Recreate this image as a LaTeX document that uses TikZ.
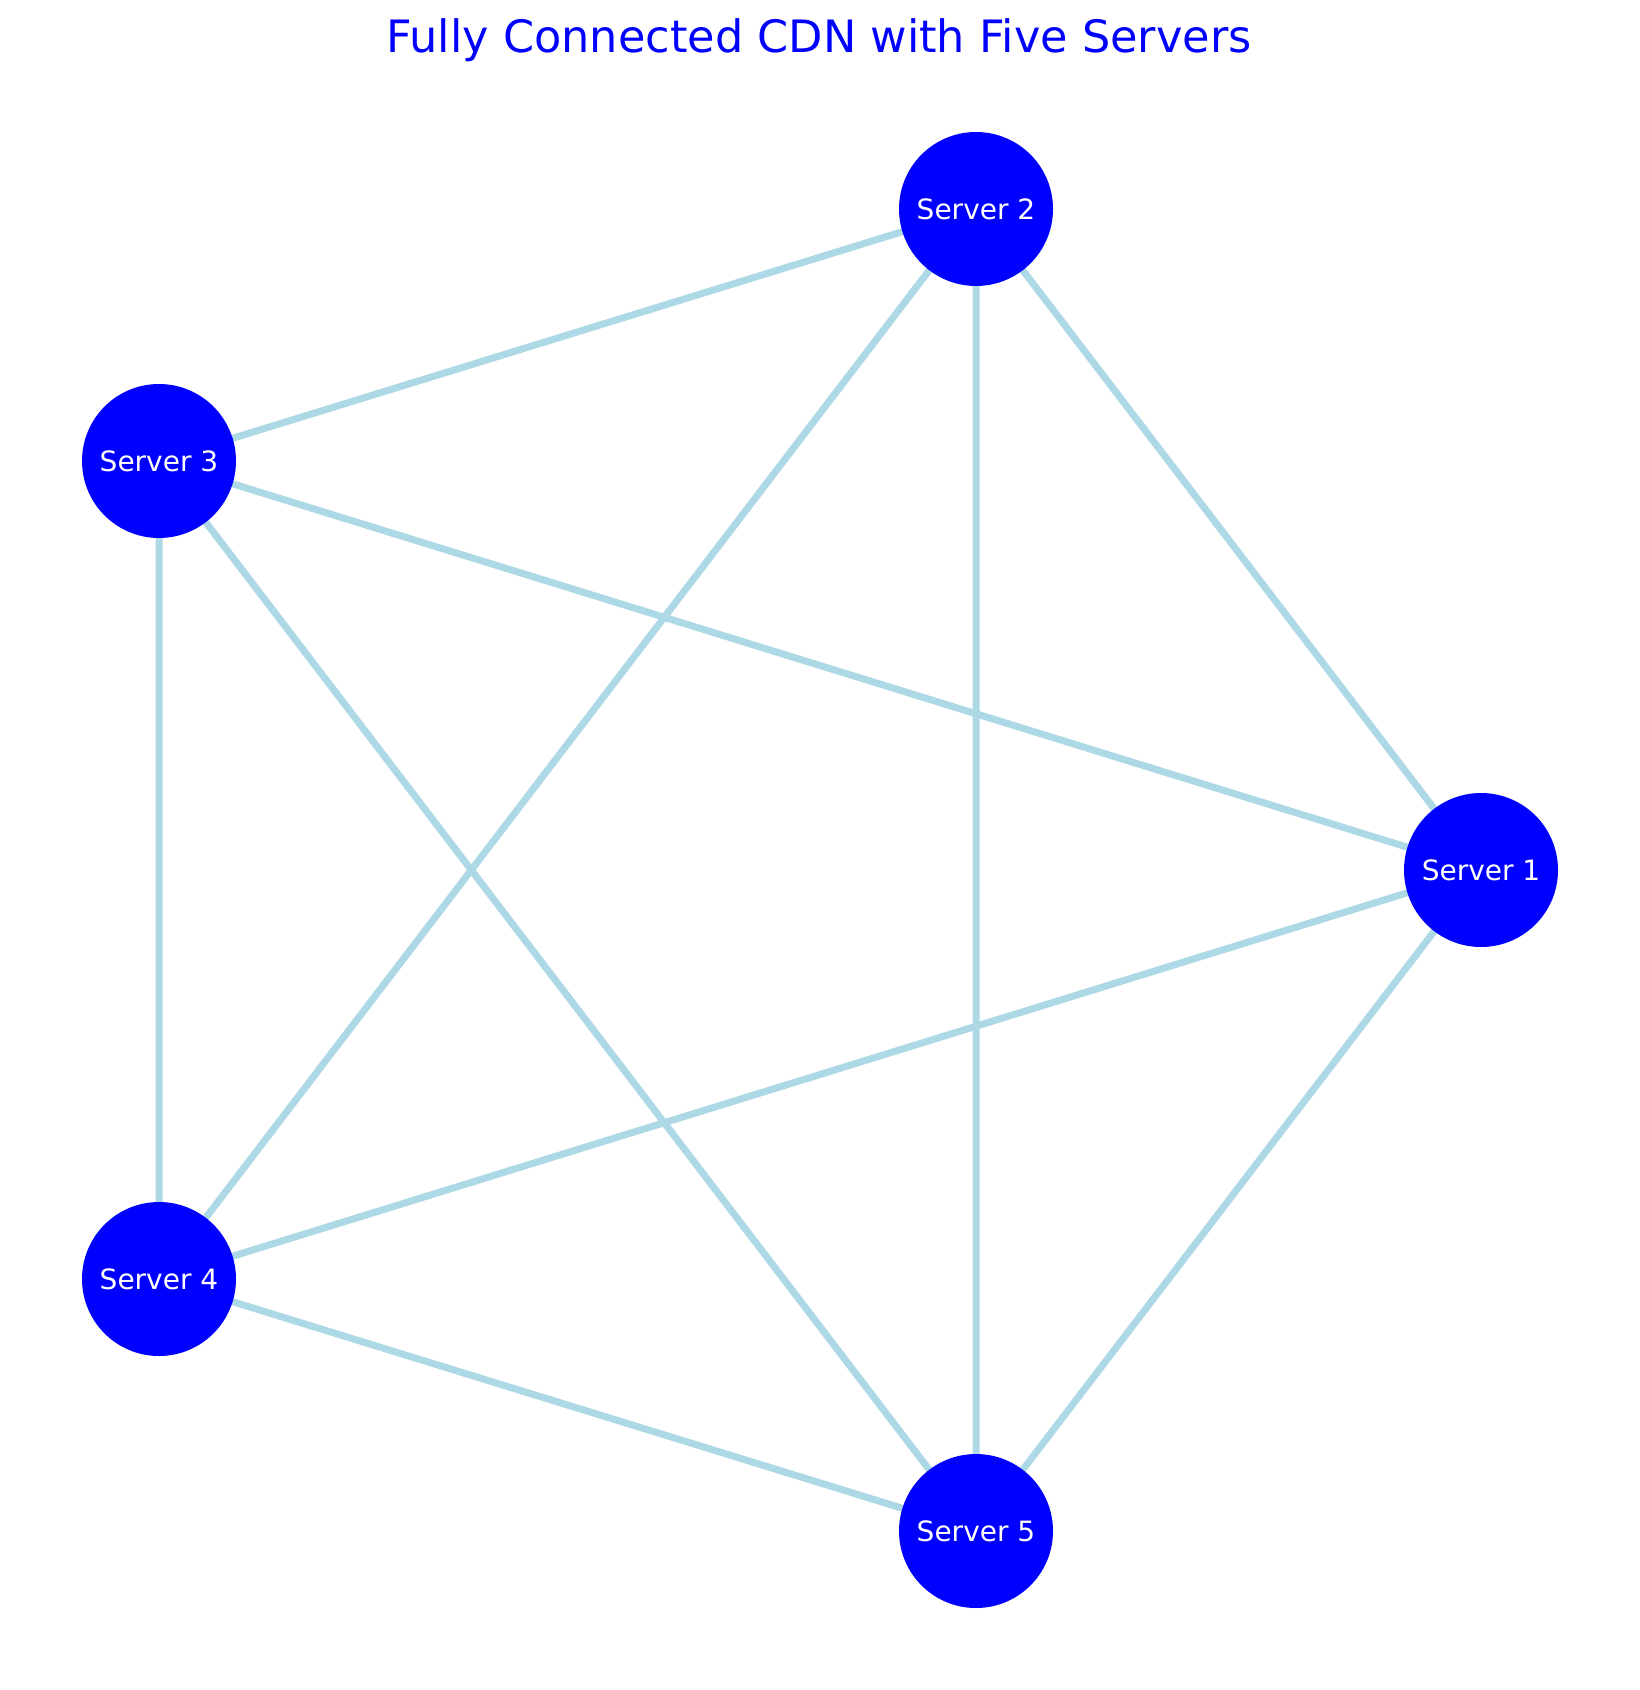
\documentclass[tikz,border=0pt]{standalone}
\usepackage{fontspec}
\setmainfont{DejaVu Sans}
\definecolor{edgeblue}{RGB}{173,216,230}
\definecolor{nodeblue}{RGB}{0,0,255}
\begin{document}
\begin{tikzpicture}[x=0.5pt,y=-0.5pt,
  server/.style={circle,fill=nodeblue,draw=none,minimum size=77pt,inner sep=0pt,text=white,font=\fontsize{14}{16}\selectfont},
  link/.style={draw=edgeblue,line width=3.5pt}]
\useasboundingbox (0,0) rectangle (1639,1690);
\node[text=nodeblue,font=\fontsize{22.3}{26}\selectfont] (title) at (819,40) {Fully Connected CDN with Five Servers};
\coordinate (c1) at (1481,870);
\coordinate (c2) at (976,209);
\coordinate (c3) at (159,461);
\coordinate (c4) at (159,1279);
\coordinate (c5) at (976,1531);
\draw[link] (c1)--(c2) (c1)--(c3) (c1)--(c4) (c1)--(c5)
  (c2)--(c3) (c2)--(c4) (c2)--(c5)
  (c3)--(c4) (c3)--(c5) (c4)--(c5);
\node[server] (s1) at (c1) {Server 1};
\node[server] (s2) at (c2) {Server 2};
\node[server] (s3) at (c3) {Server 3};
\node[server] (s4) at (c4) {Server 4};
\node[server] (s5) at (c5) {Server 5};
\end{tikzpicture}
\end{document}
